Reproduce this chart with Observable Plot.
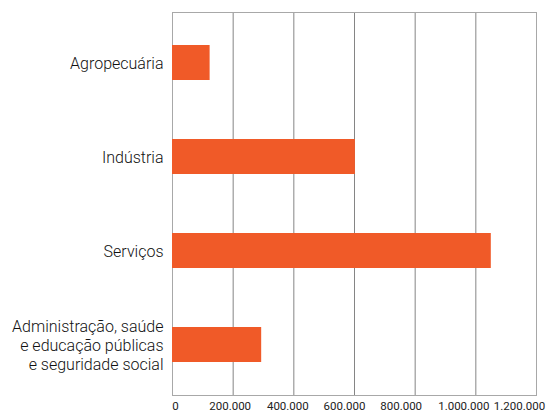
<!DOCTYPE html>
<html>
<head>
<meta charset="utf-8">
<script src="https://cdn.jsdelivr.net/npm/d3@7"></script>
<script src="https://cdn.jsdelivr.net/npm/@observablehq/plot@0.6"></script>
<style>
  html, body { margin: 0; padding: 0; background: #fff; }
  svg { display: block; }
</style>
</head>
<body>
<div id="chart"></div>
<script>
const categories = [
  "Agropecuária",
  "Indústria",
  "Serviços",
  "Administração, saúde\ne educação públicas\ne seguridade social"
];
const values = [124000, 603000, 1051000, 294000];
const tickValues = [0, 200000, 400000, 600000, 800000, 1000000, 1200000];
const tickLabels = ["0", "200.000", "400.000", "600.000", "800.000", "1.000.000", "1.200.000"];

const data = categories.map((c, i) => ({category: c, value: values[i]}));
const fmt = v => tickLabels[tickValues.indexOf(v)];
const font = "Roboto, 'Open Sans', sans-serif";

// tick label groups with slight offsets to follow the reference placement
const tickGroups = [
  {ticks: [0], dx: 3},
  {ticks: [200000], dx: -3},
  {ticks: [400000], dx: -6},
  {ticks: [600000], dx: -10},
  {ticks: [800000], dx: -14},
  {ticks: [1000000], dx: -12},
  {ticks: [1200000], dx: -17}
];

const chart = Plot.plot({
  width: 546,
  height: 415,
  marginLeft: 172,
  marginRight: 10,
  marginTop: 12,
  marginBottom: 20,
  style: {fontFamily: font, background: "#fff"},
  x: {domain: [0, 1200000]},
  y: {domain: categories, paddingInner: 0.63, paddingOuter: 0.34},
  marks: [
    Plot.gridX(tickValues.slice(1, -1), {stroke: "#858585", strokeOpacity: 1, strokeWidth: 1}),
    Plot.frame({stroke: "#a8a8a8", strokeWidth: 1}),
    Plot.barX(data, {x: "value", y: "category", fill: "#f05a28"}),
    ...tickGroups.map(g => Plot.axisX(g.ticks, {
      tickSize: 0, tickPadding: 6, tickFormat: fmt, fontSize: 11.5,
      fill: "#222", dx: g.dx, label: null
    })),
    Plot.axisY({
      tickSize: 0, tickPadding: 9, fontSize: 16, fontWeight: 300, fill: "#111",
      lineHeight: 1.2, label: null
    })
  ]
});
document.getElementById("chart").appendChild(chart);
</script>
</body>
</html>
